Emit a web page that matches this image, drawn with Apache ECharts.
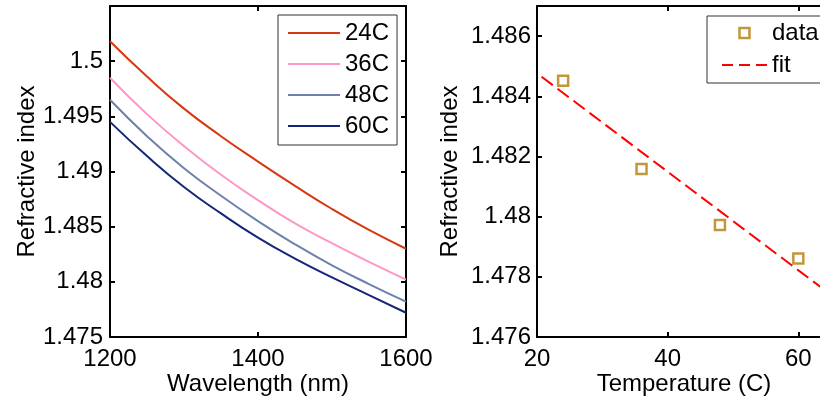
<!DOCTYPE html>
<html>
<head>
<meta charset="utf-8">
<script src="https://cdn.jsdelivr.net/npm/echarts@6/dist/echarts.min.js"></script>
<style>
	html, body { margin: 0; padding: 0; background: #fff; }
	#main { width: 820px; height: 400px; }
</style>
</head>
<body>
<div id="main"></div>
<script>
	// left panel: refractive index vs wavelength
	var wavelength = [1200, 1250, 1300, 1350, 1400, 1450, 1500, 1550, 1600];
	var n24 = [1.5018, 1.4986, 1.4957, 1.4932, 1.4909, 1.4887, 1.4866, 1.4847, 1.4830];
	var n36 = [1.4985, 1.4952, 1.4923, 1.4897, 1.4874, 1.4853, 1.4835, 1.4818, 1.4802];
	var n48 = [1.4965, 1.4932, 1.4903, 1.4878, 1.4855, 1.4834, 1.4815, 1.4798, 1.4782];
	var n60 = [1.4945, 1.4914, 1.4886, 1.4862, 1.4840, 1.4821, 1.4804, 1.4788, 1.4772];
	var curveNames = ['24C', '36C', '48C', '60C'];

	// right panel: index vs temperature
	var temps = [24, 36, 48, 60];
	var tempIndex = [1.48452, 1.48158, 1.47972, 1.47861];
	var fitX = [20.7, 65];
	var fitY = [1.48465, 1.47740];

	var font = '"Liberation Sans", Arial, sans-serif';

	function pairs(xs, ys) {
		var out = [];
		for (var i = 0; i < xs.length; i++) out.push([xs[i], ys[i]]);
		return out;
	}

	function mainAxis(o) {
		return {
			type: 'value',
			gridIndex: o.grid,
			position: o.position,
			min: o.min,
			max: o.max,
			interval: o.interval,
			name: o.name,
			nameLocation: 'middle',
			nameGap: o.nameGap,
			nameMoveOverlap: false,
			nameTextStyle: { color: '#000', fontSize: 24, fontFamily: font },
			axisLine: { show: true, onZero: false, lineStyle: { color: '#000', width: 2 } },
			axisTick: { show: true, inside: true, length: 5, lineStyle: { color: '#000', width: 2 } },
			axisLabel: {
				show: o.label !== false,
				color: '#000',
				fontSize: 24,
				fontFamily: font,
				margin: o.margin,
				showMaxLabel: o.maxLabel === true,
				formatter: function(v) { return String(+v.toFixed(4)); }
			},
			splitLine: { show: false }
		};
	}

	var myChart = echarts.init(document.getElementById('main'));

	var colors = ['#d8380f', '#ff96c8', '#6e80ae', '#14267a'];
	var leftData = [n24, n36, n48, n60];
	var markerColor = '#b47c0a';

	var series = [];
	var leftLegend = [];
	for (var i = 0; i < 4; i++) {
		series.push({
			name: curveNames[i],
			type: 'line',
			xAxisIndex: 0,
			yAxisIndex: 0,
			smooth: true,
			symbol: 'none',
			data: pairs(wavelength, leftData[i]),
			lineStyle: { color: colors[i], width: 2 },
			itemStyle: { color: colors[i] }
		});
		leftLegend.push({
			name: curveNames[i],
			icon: 'path://M0,0H52V2H0Z',
			itemStyle: { color: colors[i], borderWidth: 0 }
		});
	}
	series.push({
		name: 'data',
		type: 'scatter',
		xAxisIndex: 2,
		yAxisIndex: 2,
		symbol: 'rect',
		symbolSize: 10,
		data: pairs(temps, tempIndex),
		itemStyle: { color: 'rgba(0,0,0,0)', borderColor: markerColor, borderWidth: 2.5 }
	});
	series.push({
		name: 'fit',
		type: 'line',
		xAxisIndex: 2,
		yAxisIndex: 2,
		symbol: 'none',
		data: pairs(fitX, fitY),
		lineStyle: { color: '#ff0000', width: 2, type: [14, 6] },
		itemStyle: { color: '#ff0000' }
	});

	var option = {
		backgroundColor: '#fff',
		animation: false,
		grid: [
			{ left: 110, top: 6, width: 296, height: 331, outerBoundsMode: 'none' },
			{ left: 537, top: 6, width: 294, height: 331, outerBoundsMode: 'none' }
		],
		xAxis: [
			mainAxis({ grid: 0, position: 'bottom', min: 1200, max: 1600, interval: 200, name: 'Wavelength (nm)', nameGap: 35, margin: 10, maxLabel: true }),
			mainAxis({ grid: 0, position: 'top', min: 1200, max: 1600, interval: 200, label: false }),
			mainAxis({ grid: 1, position: 'bottom', min: 20, max: 65, interval: 20, name: 'Temperature (C)', nameGap: 35, margin: 10 }),
			mainAxis({ grid: 1, position: 'top', min: 20, max: 65, interval: 20, label: false })
		],
		yAxis: [
			mainAxis({ grid: 0, position: 'left', min: 1.475, max: 1.505, interval: 0.005, name: 'Refractive index', nameGap: 71, margin: 7 }),
			mainAxis({ grid: 0, position: 'right', min: 1.475, max: 1.505, interval: 0.005, label: false }),
			mainAxis({ grid: 1, position: 'left', min: 1.476, max: 1.487, interval: 0.002, name: 'Refractive index', nameGap: 75, margin: 6 }),
			mainAxis({ grid: 1, position: 'right', min: 1.476, max: 1.487, interval: 0.002, label: false })
		],
		legend: [
			{
				data: leftLegend,
				orient: 'vertical',
				left: 278,
				top: 15,
				itemWidth: 52,
				itemHeight: 10,
				itemGap: 7,
				padding: [6, 8, 7, 10],
				borderColor: '#333',
				borderWidth: 1,
				backgroundColor: '#fff',
				selectedMode: false,
				textStyle: { color: '#000', fontSize: 24, lineHeight: 24, fontFamily: font }
			},
			{
				data: [
					{
						name: 'data',
						icon: 'path://M0,0H10V10H0Z',
						itemStyle: { color: 'rgba(0,0,0,0)', borderColor: markerColor, borderWidth: 2.5 }
					},
					{
						name: 'fit',
						icon: 'path://M0,0H11V2H0Z M17,0H28V2H17Z M34,0H45V2H34Z',
						itemStyle: { color: '#ff0000', borderWidth: 0 }
					}
				],
				orient: 'vertical',
				left: 707,
				top: 16,
				itemWidth: 45,
				itemHeight: 10,
				itemGap: 8,
				padding: [5, 10, 6, 15],
				borderColor: '#333',
				borderWidth: 1,
				backgroundColor: '#fff',
				selectedMode: false,
				textStyle: { color: '#000', fontSize: 24, lineHeight: 24, fontFamily: font }
			}
		],
		series: series
	};
	myChart.setOption(option);
</script>
</body>
</html>
